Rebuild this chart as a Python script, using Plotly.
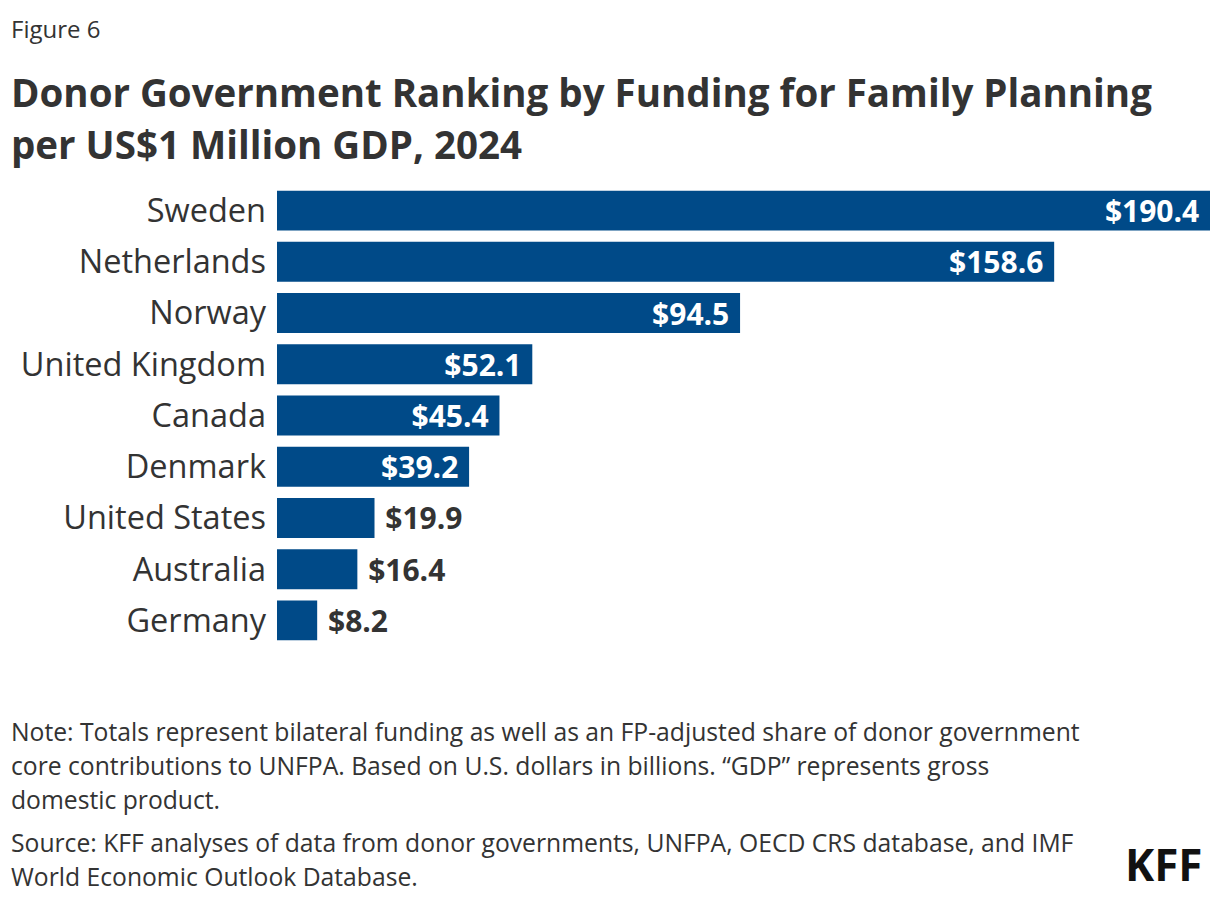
import plotly.graph_objects as go

countries = ["Sweden", "Netherlands", "Norway", "United Kingdom", "Canada",
             "Denmark", "United States", "Australia", "Germany"]
funding = [190.4, 158.6, 94.5, 52.1, 45.4, 39.2, 19.9, 16.4, 8.2]

# page has an 8px body margin, so the figure is laid out 8px in from the window corner
OFF = 8
W, H = 1220 - 2 * OFF, 902 - 2 * OFF
L, R, T, B = 277 - OFF, 1220 - 1210 - OFF, 185 - OFF, 902 - 646 - OFF
FONT = "Open Sans"
BLUE = "#004A88"
GREY = "#333333"

inside = [v > 30 for v in funding]
labels = [("$" + format(v, ".1f") + "\u00a0") if ins else ("\u00a0$" + format(v, ".1f"))
          for v, ins in zip(funding, inside)]
positions = ["inside" if ins else "outside" for ins in inside]

fig = go.Figure()
fig.add_trace(go.Bar(
    x=funding, y=countries, orientation="h",
    marker=dict(color=BLUE, line=dict(width=0)),
    text=labels, textposition=positions, insidetextanchor="end",
    insidetextfont=dict(color="white", size=30, family=FONT, weight="bold"),
    outsidetextfont=dict(color=GREY, size=30, family=FONT, weight="bold"),
    constraintext="none", cliponaxis=False, hoverinfo="skip",
))

pw = W - L - R
ph = H - T - B


def px(x):
    return (x - OFF - L) / pw


def py(y):
    return (H - B - (y - OFF)) / ph


def note(text, x, y, size, bold=False, color=GREY, anchor="left"):
    fig.add_annotation(text=text, x=px(x), y=py(y), xref="paper", yref="paper",
                       xanchor=anchor, yanchor="middle", showarrow=False, align="left",
                       font=dict(family=FONT, size=size, color=color,
                                 weight="bold" if bold else "normal"))


note("Figure 6", 9, 28, 24)
note("Donor Government Ranking by Funding for Family Planning", 9, 92, 38.5, bold=True)
note("per US$1 Million GDP, 2024", 9, 144, 38.5, bold=True)
note("Note: Totals represent bilateral funding as well as an FP-adjusted share of donor government", 9, 731, 24.7)
note("core contributions to UNFPA. Based on U.S. dollars in billions. \u201cGDP\u201d represents gross", 9, 765, 24.7)
note("domestic product.", 9, 799, 24.7)
note("Source: KFF analyses of data from donor governments, UNFPA, OECD CRS database, and IMF", 9, 842, 24.7)
note("World Economic Outlook Database.", 9, 876, 24.7)
note("KFF", 1205, 864, 44, bold=True, color="#111111", anchor="right")

fig.update_layout(
    width=W, height=H,
    margin=dict(l=L, r=R, t=T, b=B),
    paper_bgcolor="white", plot_bgcolor="white",
    bargap=0.22, showlegend=False,
    font=dict(family=FONT, color=GREY),
)
fig.update_xaxes(visible=False, range=[0, 190.4])
fig.update_yaxes(autorange="reversed", showgrid=False, showline=False, ticks="",
                 tickfont=dict(size=32.5, color=GREY, family=FONT), ticklabelstandoff=10)

fig.write_html("out.html")
